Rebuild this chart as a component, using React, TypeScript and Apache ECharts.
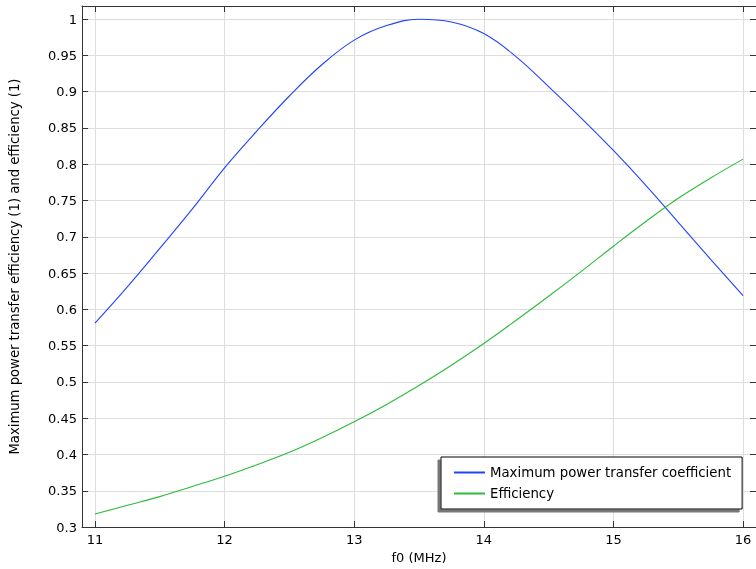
import React, { useEffect, useRef } from "react";
import * as echarts from "echarts";

const freq = [11, 11.25, 11.5, 11.75, 12, 12.25, 12.5, 12.75, 13, 13.25, 13.5, 13.75, 14, 14.25, 14.5, 14.75, 15, 15.25, 15.5, 15.75, 16];
const maxPowerCoeff = [0.581, 0.631, 0.684, 0.738, 0.795, 0.846, 0.894, 0.937, 0.971, 0.991, 0.9997, 0.996, 0.980, 0.948, 0.907, 0.864, 0.819, 0.771, 0.720, 0.669, 0.619];
const efficiency = [0.318, 0.330, 0.342, 0.356, 0.370, 0.386, 0.403, 0.423, 0.445, 0.469, 0.495, 0.523, 0.553, 0.585, 0.618, 0.652, 0.687, 0.721, 0.753, 0.781, 0.807];
const xTicks = [11, 12, 13, 14, 15, 16];
const yTicks = [0.3, 0.35, 0.4, 0.45, 0.5, 0.55, 0.6, 0.65, 0.7, 0.75, 0.8, 0.85, 0.9, 0.95, 1];
const seriesNames = ["Maximum power transfer coefficient", "Efficiency"];

export default function App() {
  const ref = useRef<HTMLDivElement>(null);
  useEffect(() => {
    const chart = echarts.init(ref.current!, undefined, { renderer: "svg" });
    const font = "DejaVu Sans";
    const axisLine = { show: true, lineStyle: { color: "#333", width: 1 } };
    const tick = (vals: number[]) => ({ show: true, inside: true, length: 6, customValues: vals, lineStyle: { color: "#333" } });
    const split = { show: true, lineStyle: { color: "#dddddd", width: 1 } };
    chart.setOption({
      animation: false,
      textStyle: { fontFamily: font },
      grid: { left: 82, right: -1, top: 6, bottom: 37 },
      xAxis: [
        {
          type: "value", min: 10.9, max: 16.1, position: "bottom",
          name: "f0 (MHz)", nameLocation: "middle", nameGap: 21,
          nameTextStyle: { color: "#000", fontSize: 13, fontFamily: font },
          axisLine, axisTick: tick(xTicks), splitLine: split,
          axisLabel: { customValues: xTicks, color: "#000", fontSize: 13, fontFamily: font, margin: 6 },
        },
        {
          type: "value", min: 10.9, max: 16.1, position: "top",
          axisLine, axisTick: tick(xTicks), splitLine: { show: false },
          axisLabel: { show: false, customValues: xTicks },
        },
      ],
      yAxis: [
        {
          type: "value", min: 0.3, max: 1.018, position: "left",
          name: "Maximum power transfer efficiency (1) and efficiency (1)",
          nameLocation: "middle", nameGap: 61,
          nameTextStyle: { color: "#000", fontSize: 13.2, fontFamily: font },
          axisLine, axisTick: tick(yTicks), splitLine: split,
          axisLabel: { customValues: yTicks, color: "#000", fontSize: 13, fontFamily: font, margin: 5 },
        },
        {
          type: "value", min: 0.3, max: 1.018, position: "right",
          axisLine, axisTick: tick(yTicks), splitLine: { show: false },
          axisLabel: { show: false, customValues: yTicks },
        },
      ],
      legend: {
        orient: "vertical", left: 441, top: 457, itemWidth: 31, itemHeight: 14, itemGap: 8,
        padding: [9, 11, 9, 12], backgroundColor: "#fff", borderColor: "#000", borderWidth: 1,
        shadowColor: "#777", shadowBlur: 0, shadowOffsetX: -3, shadowOffsetY: 3,
        itemStyle: { opacity: 0 },
        textStyle: { color: "#000", fontSize: 13.3, fontFamily: font },
        data: seriesNames,
      },
      series: [
        {
          name: seriesNames[0], type: "line", symbol: "none", smooth: 0.4,
          lineStyle: { color: "#2143ff", width: 1.1 }, itemStyle: { color: "#2143ff" },
          data: freq.map((f, i) => [f, maxPowerCoeff[i]]),
        },
        {
          name: seriesNames[1], type: "line", symbol: "none", smooth: 0.4,
          lineStyle: { color: "#2cbb3a", width: 1.1 }, itemStyle: { color: "#2cbb3a" },
          data: freq.map((f, i) => [f, efficiency[i]]),
        },
      ],
    });
    return () => chart.dispose();
  }, []);
  return <div ref={ref} style={{ position: "fixed", left: 0, top: 0, width: 756, height: 569 }} />;
}
